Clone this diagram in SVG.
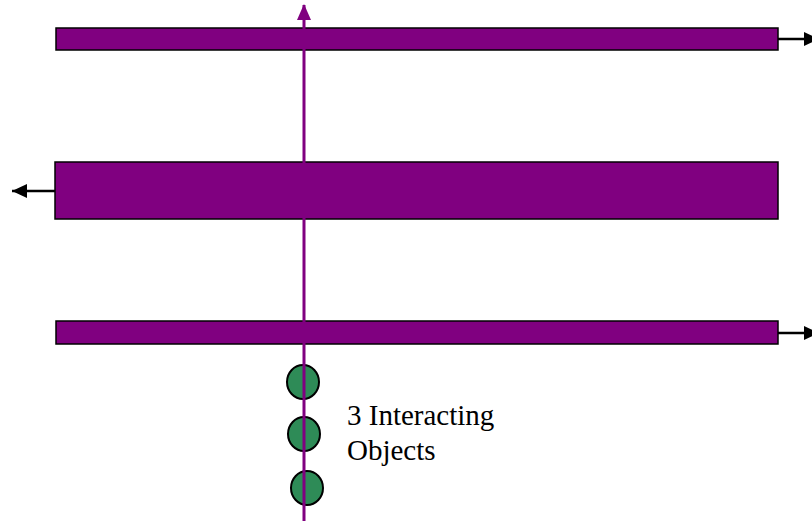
<svg xmlns="http://www.w3.org/2000/svg" width="812" height="521" viewBox="0 0 812 521">
<style>
.bar{fill:#800080;stroke:#000;stroke-width:1.5}
.obj{fill:#2e8b57;stroke:#000;stroke-width:2}
.blk{stroke:#000;stroke-width:2.5;fill:none}
.lbl{font-family:"Liberation Serif","Times New Roman",serif;font-size:29px;fill:#000}
</style>
<defs>
<marker id="ap" markerWidth="16" markerHeight="16" refX="15" refY="8" orient="auto" markerUnits="userSpaceOnUse"><path d="M0,1 L16,8 L0,15 Z" fill="#800080"/></marker>
<marker id="ab2" markerWidth="15" markerHeight="14" refX="15" refY="7" orient="auto" markerUnits="userSpaceOnUse"><path d="M0,0 L15,7 L0,14 Z" fill="#000"/></marker>
</defs>
<g id="bar1"><rect class="bar" x="56" y="28" width="722" height="22"/></g>
<g id="bar2"><rect class="bar" x="55" y="162" width="723" height="57"/></g>
<g id="bar3"><rect class="bar" x="56" y="321" width="722" height="23"/></g>
<g id="obj1"><ellipse class="obj" cx="303" cy="382" rx="16" ry="17"/></g>
<g id="obj2"><ellipse class="obj" cx="304" cy="434" rx="16" ry="17"/></g>
<g id="obj3"><ellipse class="obj" cx="307" cy="488" rx="16" ry="17"/></g>
<g id="connectors">
<line class="blk" x1="778" y1="39" x2="819" y2="39" marker-end="url(#ab2)"/>
<line class="blk" x1="55" y1="191" x2="12" y2="191" marker-end="url(#ab2)"/>
<line class="blk" x1="778" y1="333" x2="819" y2="333" marker-end="url(#ab2)"/>
<line x1="304" y1="521" x2="304" y2="5" stroke="#800080" stroke-width="3" marker-end="url(#ap)"/>
</g>
<g id="label">
<text class="lbl" x="347" y="425">3 Interacting</text>
<text class="lbl" x="347" y="460">Objects</text>
</g>
</svg>
